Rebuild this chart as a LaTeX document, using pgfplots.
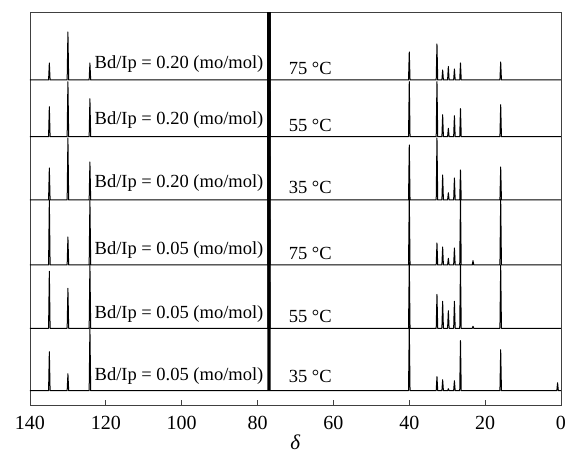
\documentclass[border=0pt]{standalone}
\usepackage{fontspec}
\setmainfont{Liberation Serif}
\usepackage{pgfplots}
\usepackage{pgfplotstable}
\pgfplotsset{compat=1.18}
\tikzset{
  lbl/.style={anchor=base west, inner sep=0pt, font=\fontsize{18.5}{20}\selectfont},
  spec/.style={black, line width=1pt, mark=none, sharp plot, line join=round},
}

% peak heights (px above each baseline) for the six spectra, top to bottom
\pgfplotstableread{
x     h1   h2   h3   h4   h5   h6
140   0    0    0    0    0    0
135.1 0    0    0    0    0    0
134.9 17   30   32   65   57   39
134.7 0    0    0    0    0    0
130.2 0    0    0    0    0    0
130.0 48   55   62   28   40   17
129.8 0    0    0    0    0    0
124.4 0    0    0    0    0    0
124.2 17   38   38   65   64   63
124.0 0    0    0    0    0    0
77.3  0    0    0    0    0    0
77.2  500  500  500  500  500  500
77.1  0    0    0    0    0    0
77.0  500  500  500  500  500  500
76.9  0    0    0    0    0    0
76.8  500  500  500  500  500  500
76.7  0    0    0    0    0    0
40.2  0    0    0    0    0    0
40.0  28   55   55   68   66   65
39.8  0    0    0    0    0    0
32.9  0    0    0    0    0    0
32.7  36   55   62   22   34   14
32.5  0    0    0    0    0    0
31.4  0    0    0    0    0    0
31.2  10   22   25   18   27   11
31.0  0    0    0    0    0    0
29.9  0    0    0    0    0    0
29.7  13.5 8.4  7.3  6.7  17.6 2
29.5  0    0    0    0    0    0
28.3  0    0    0    0    0    0
28.1  11   21   22   17   27   10
27.9  0    0    0    0    0    0
26.7  0    0    0    0    0    0
26.5  17   28   30   66   64   50
26.3  0    0    0    0    0    0
23.4  0    0    0    0    0    0
23.2  0    0    0    4.3  2    0
23.0  0    0    0    0    0    0
16.1  0    0    0    0    0    0
15.9  18   32   33   66   63   41
15.7  0    0    0    0    0    0
1.1   0    0    0    0    0    0
0.9   0    0    0    0    0    8
0.7   0    0    0    0    0    0
0     0    0    0    0    0    0
}\spectra

\begin{document}
\begin{tikzpicture}
\begin{axis}[
    width=531pt, height=393.2pt, scale only axis,
    xmin=0, xmax=140, x dir=reverse,
    ymin=0, ymax=393.2,
    ytick=\empty,
    xtick={0,20,...,140},
    xtick pos=bottom,
    tick align=inside,
    major tick length=6pt,
    axis line style={black!75, line width=0.8pt},
    tick style={black!75, line width=0.8pt},
    ticklabel style={font=\fontsize{20}{22}\selectfont},
    xticklabel style={yshift=-7pt},
    /pgf/number format/assume math mode=true,
    xlabel={\textit{δ}},
    xlabel style={font=\fontsize{21}{24}\selectfont, inner sep=0pt, yshift=-2pt},
]
\addplot[spec] table[x=x, y expr=\thisrow{h1}+325.7] {\spectra};
\addplot[spec] table[x=x, y expr=\thisrow{h2}+269.0] {\spectra};
\addplot[spec] table[x=x, y expr=\thisrow{h3}+205.7] {\spectra};
\addplot[spec] table[x=x, y expr=\thisrow{h4}+140.7] {\spectra};
\addplot[spec] table[x=x, y expr=\thisrow{h5}+77.4] {\spectra};
\addplot[spec] table[x=x, y expr=\thisrow{h6}+15.0] {\spectra};

\node[lbl] at (axis cs:123,337.4) {Bd/Ip = 0.20 (mo/mol)};
\node[lbl] at (axis cs:123,281.4) {Bd/Ip = 0.20 (mo/mol)};
\node[lbl] at (axis cs:123,218.0) {Bd/Ip = 0.20 (mo/mol)};
\node[lbl] at (axis cs:123,151.4) {Bd/Ip = 0.05 (mo/mol)};
\node[lbl] at (axis cs:123,87.4) {Bd/Ip = 0.05 (mo/mol)};
\node[lbl] at (axis cs:123,25.0) {Bd/Ip = 0.05 (mo/mol)};

\node[lbl] at (axis cs:71.8,330.7) {75 °C};
\node[lbl] at (axis cs:71.8,274.0) {55 °C};
\node[lbl] at (axis cs:71.8,212.4) {35 °C};
\node[lbl] at (axis cs:71.8,146.4) {75 °C};
\node[lbl] at (axis cs:71.8,83.0) {55 °C};
\node[lbl] at (axis cs:71.8,23.0) {35 °C};
\end{axis}
\pgfresetboundingbox
\path ([xshift=-30pt,yshift=-46.3pt]current axis.south west)
   rectangle ([xshift=4pt,yshift=12.5pt]current axis.north east);
\end{tikzpicture}
\end{document}
